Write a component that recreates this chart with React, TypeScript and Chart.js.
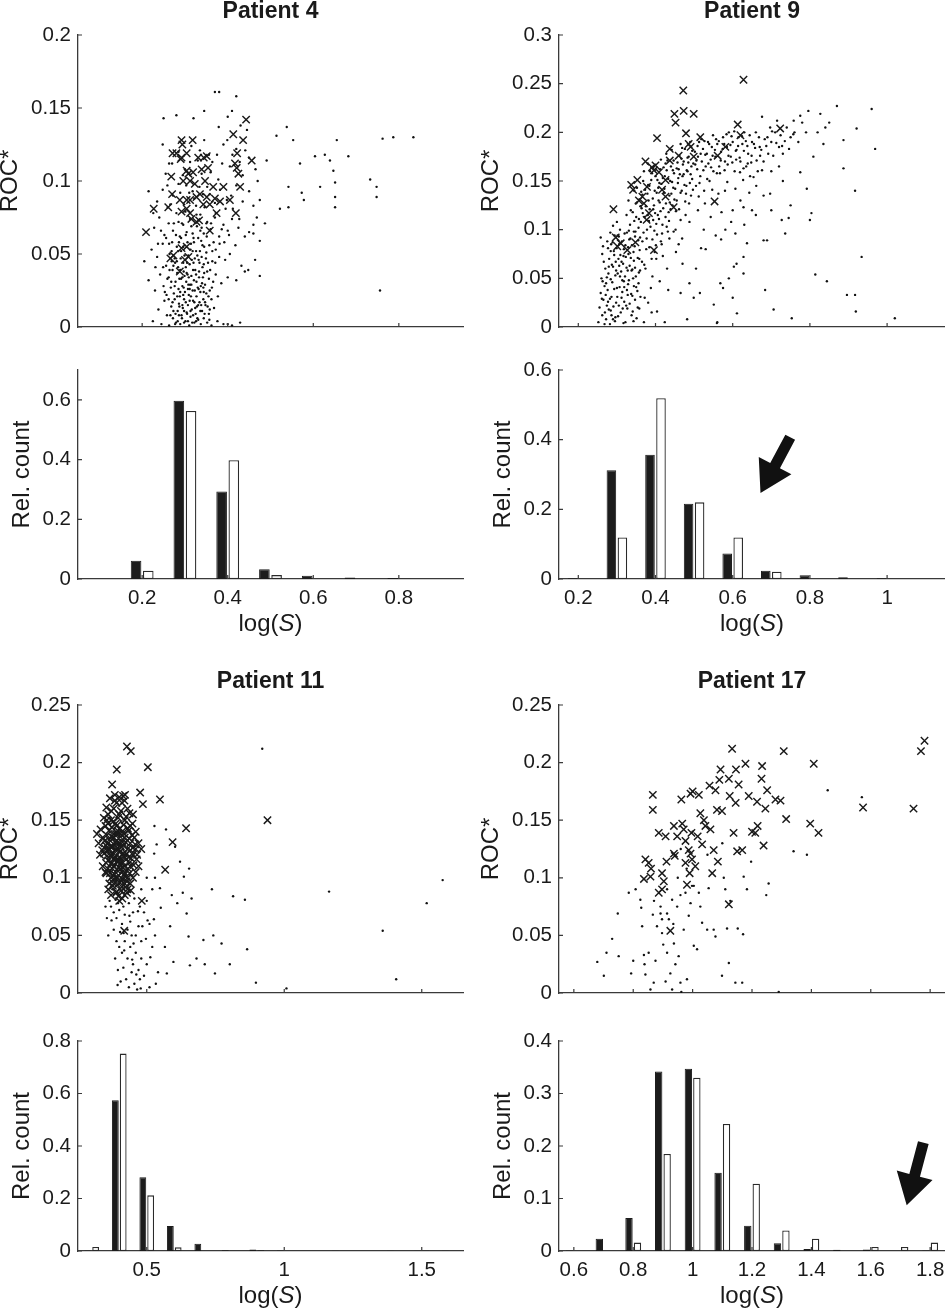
import React, { useEffect, useRef } from "react";
import { Chart, registerables } from "chart.js";

Chart.register(...registerables);

// ---------------- data ----------------
type Pt = [number, number];

// Patient 4 – scatter (ROC* vs log(S))
const P4_CROSSES: Pt[] = [
  [0.209,0.065],[0.227,0.081],[0.261,0.082],[0.268,0.103],[0.270,0.091],[0.271,0.119],[0.280,0.119],[0.292,0.128],
  [0.294,0.125],[0.292,0.116],[0.296,0.100],[0.290,0.115],[0.304,0.119],[0.318,0.128],[0.273,0.049],[0.266,0.047],
  [0.288,0.038],[0.292,0.054],[0.304,0.055],[0.308,0.048],[0.300,0.046],[0.315,0.074],[0.312,0.078],[0.327,0.072],
  [0.333,0.073],[0.331,0.116],[0.339,0.108],[0.344,0.116],[0.351,0.117],[0.354,0.109],[0.347,0.100],[0.304,0.107],
  [0.308,0.105],[0.312,0.100],[0.319,0.106],[0.323,0.098],[0.288,0.087],[0.304,0.087],[0.312,0.087],[0.327,0.089],
  [0.335,0.091],[0.343,0.084],[0.351,0.089],[0.358,0.084],[0.366,0.096],[0.370,0.088],[0.382,0.086],[0.374,0.078],
  [0.358,0.066],[0.390,0.096],[0.405,0.087],[0.413,0.132],[0.421,0.109],[0.417,0.112],[0.425,0.105],[0.429,0.096],
  [0.419,0.078],[0.422,0.119],[0.436,0.128],[0.443,0.142],[0.456,0.114],[0.304,0.081],[0.292,0.079],
];
const P4_DOTS: Pt[] = [
  [0.225,0.004],[0.238,0.012],[0.245,0.002],[0.252,0.018],[0.258,0.008],[0.263,0.001],[0.268,0.014],[0.272,0.006],
  [0.276,0.019],[0.279,0.003],[0.283,0.011],[0.286,0.016],[0.289,0.002],[0.292,0.008],[0.295,0.013],[0.298,0.019],
  [0.301,0.004],[0.304,0.010],[0.307,0.015],[0.310,0.001],[0.313,0.007],[0.316,0.012],[0.319,0.018],[0.322,0.003],
  [0.325,0.009],[0.328,0.014],[0.331,0.005],[0.334,0.017],[0.337,0.002],[0.340,0.011],[0.344,0.006],[0.348,0.015],
  [0.352,0.003],[0.356,0.009],[0.362,0.001],[0.368,0.013],[0.376,0.004],[0.390,0.002],[0.400,0.002],[0.410,0.001],
  [0.215,0.032],[0.230,0.025],[0.242,0.036],[0.250,0.028],[0.257,0.022],[0.262,0.034],[0.267,0.027],[0.271,0.039],
  [0.274,0.023],[0.278,0.031],[0.282,0.037],[0.285,0.026],[0.288,0.021],[0.291,0.033],[0.294,0.028],[0.297,0.038],
  [0.300,0.024],[0.303,0.031],[0.306,0.036],[0.309,0.022],[0.312,0.029],[0.315,0.035],[0.318,0.025],[0.321,0.032],
  [0.324,0.039],[0.327,0.021],[0.330,0.027],[0.333,0.034],[0.336,0.024],[0.340,0.030],[0.345,0.037],[0.350,0.023],
  [0.356,0.033],[0.363,0.027],[0.372,0.036],[0.385,0.030],[0.400,0.034],[0.420,0.032],
  [0.205,0.045],[0.222,0.053],[0.235,0.048],[0.248,0.057],[0.256,0.042],[0.264,0.050],[0.270,0.058],[0.277,0.044],
  [0.284,0.052],[0.290,0.047],[0.296,0.055],[0.302,0.041],[0.308,0.049],[0.314,0.057],[0.320,0.044],[0.326,0.052],
  [0.332,0.046],[0.338,0.059],[0.344,0.043],[0.350,0.051],[0.357,0.056],[0.364,0.045],[0.372,0.053],[0.380,0.048],
  [0.392,0.058],[0.405,0.050],[0.418,0.056],[0.432,0.042],[0.440,0.038],
  [0.228,0.068],[0.240,0.075],[0.252,0.063],[0.262,0.071],[0.272,0.066],[0.280,0.078],[0.288,0.062],[0.296,0.070],
  [0.304,0.065],[0.312,0.074],[0.320,0.061],[0.328,0.069],[0.336,0.077],[0.344,0.064],[0.352,0.072],[0.360,0.067],
  [0.370,0.075],[0.380,0.062],[0.390,0.070],[0.400,0.066],[0.410,0.074],[0.425,0.068],[0.440,0.062],[0.450,0.065],
  [0.460,0.070],
  [0.235,0.086],[0.248,0.094],[0.260,0.082],[0.272,0.090],[0.285,0.098],[0.298,0.084],[0.310,0.092],[0.322,0.088],
  [0.334,0.096],[0.346,0.082],[0.358,0.091],[0.370,0.085],[0.382,0.094],[0.395,0.081],[0.408,0.090],[0.420,0.097],
  [0.435,0.086],[0.450,0.093],[0.460,0.083],[0.215,0.093],
  [0.255,0.105],[0.270,0.112],[0.285,0.120],[0.300,0.108],[0.315,0.124],[0.330,0.114],[0.345,0.128],[0.360,0.106],
  [0.375,0.118],[0.390,0.125],[0.405,0.110],[0.420,0.122],[0.435,0.104],[0.450,0.116],[0.465,0.108],[0.470,0.100],
  [0.250,0.143],[0.280,0.145],[0.320,0.143],[0.345,0.148],[0.370,0.161],[0.380,0.161],[0.420,0.158],[0.410,0.148],
  [0.400,0.144],[0.445,0.135],[0.430,0.138],
  [0.491,0.114],[0.514,0.131],[0.538,0.137],[0.542,0.096],[0.553,0.128],[0.569,0.112],[0.573,0.092],[0.578,0.087],
  [0.604,0.117],[0.616,0.096],[0.627,0.118],[0.639,0.114],[0.647,0.107],[0.651,0.099],[0.651,0.089],[0.651,0.082],
  [0.655,0.128],[0.682,0.117],[0.733,0.101],[0.748,0.096],[0.748,0.089],[0.756,0.025],[0.762,0.129],[0.787,0.130],
  [0.834,0.130],[0.522,0.081],[0.542,0.082],[0.475,0.087],[0.468,0.075],[0.487,0.071],[0.460,0.064],[0.475,0.059],
  [0.464,0.046],[0.475,0.035],[0.448,0.039],[0.429,0.003],
  [0.283,0.004],[0.297,0.027],[0.311,0.043],[0.268,0.031],[0.322,0.017],[0.335,0.052],[0.291,0.061],[0.305,0.009],
  [0.347,0.029],[0.276,0.047],[0.318,0.064],[0.329,0.006],[0.262,0.019],[0.341,0.041],[0.299,0.049],[0.287,0.033],
  [0.314,0.021],[0.353,0.014],[0.273,0.011],[0.326,0.036],[0.306,0.058],[0.281,0.055],[0.339,0.068],[0.294,0.015],
  [0.359,0.039],[0.249,0.041],[0.317,0.003],[0.332,0.026],[0.285,0.072],[0.301,0.079],[0.367,0.058],[0.343,0.019],
  [0.309,0.034],[0.256,0.061],[0.277,0.002],[0.323,0.047],[0.296,0.044],[0.351,0.062],[0.269,0.052],[0.313,0.053],
  [0.289,0.024],[0.336,0.011],[0.302,0.017],[0.327,0.077],[0.358,0.025],[0.264,0.039],[0.279,0.063],[0.319,0.039],
  [0.345,0.055],[0.293,0.071],[0.307,0.026],[0.371,0.044],[0.253,0.024],[0.331,0.061],[0.286,0.008],[0.315,0.069],
  [0.298,0.003],[0.342,0.034],[0.274,0.071],[0.361,0.071],[0.381,0.057],[0.377,0.021],[0.394,0.046],[0.386,0.067],
  [0.403,0.063],[0.412,0.081],[0.398,0.087],[0.427,0.074],[0.244,0.066],[0.237,0.057],[0.231,0.041],[0.226,0.078],
  [0.259,0.097],[0.266,0.084],[0.289,0.092],[0.303,0.097],[0.326,0.083],[0.339,0.105],[0.352,0.096],[0.364,0.113],
  [0.378,0.101],[0.387,0.112],[0.399,0.128],[0.411,0.118],[0.428,0.113],[0.441,0.121],[0.379,0.137],[0.356,0.118],
  [0.335,0.121],[0.312,0.113],[0.263,0.112],[0.248,0.125],[0.342,0.091],[0.372,0.078],[0.318,0.093],[0.295,0.104],
  [0.271,0.017],[0.284,0.041],[0.293,0.006],[0.308,0.029],[0.316,0.046],[0.324,0.013],[0.333,0.038],[0.346,0.009],
  [0.354,0.044],[0.362,0.019],[0.278,0.009],[0.291,0.052],[0.299,0.035],[0.311,0.018],[0.321,0.058],[0.337,0.028],
  [0.349,0.047],[0.357,0.005],[0.366,0.031],[0.281,0.045],[0.287,0.014],[0.296,0.022],[0.305,0.044],[0.313,0.011],
  [0.329,0.049],[0.338,0.015],[0.344,0.024],[0.352,0.038],[0.259,0.033],[0.266,0.008],[0.273,0.042],[0.302,0.063],
  [0.319,0.008],[0.327,0.031],[0.341,0.056],[0.355,0.021],[0.364,0.052],[0.289,0.039],[0.307,0.004],[0.323,0.025],
  [0.334,0.044],[0.347,0.017],[0.276,0.028],[0.298,0.011],[0.315,0.029],[0.331,0.015],[0.339,0.048],[0.358,0.012],
  [0.269,0.045],[0.282,0.021],[0.294,0.034],[0.311,0.026],[0.326,0.004],[0.343,0.027],[0.286,0.058],[0.304,0.037],
  [0.318,0.052],[0.336,0.066],[0.350,0.071],[0.263,0.057],
];
const P4_BINS = [0.2, 0.3, 0.4, 0.5, 0.6, 0.7, 0.8];
const P4_BLACK = [0.061, 0.597, 0.293, 0.033, 0.011, 0.005, 0.003];
const P4_WHITE = [0.028, 0.563, 0.398, 0.013, 0, 0, 0.002];

// Patient 9
const P9_CROSSES: Pt[] = [
  [0.291,0.121],[0.297,0.092],[0.301,0.083],[0.310,0.086],[0.337,0.146],[0.342,0.141],[0.353,0.151],[0.357,0.130],
  [0.370,0.127],[0.374,0.170],[0.377,0.110],[0.383,0.117],[0.391,0.164],[0.396,0.161],[0.400,0.166],[0.404,0.194],
  [0.409,0.159],[0.348,0.087],[0.396,0.079],[0.417,0.141],[0.426,0.151],[0.437,0.183],[0.437,0.171],[0.447,0.123],
  [0.449,0.219],[0.452,0.210],[0.460,0.176],[0.472,0.243],[0.473,0.222],[0.479,0.199],[0.486,0.188],[0.491,0.185],
  [0.499,0.175],[0.499,0.219],[0.516,0.195],[0.553,0.129],[0.561,0.176],[0.581,0.185],[0.613,0.208],[0.620,0.197],
  [0.628,0.254],[0.723,0.204],[0.426,0.134],[0.378,0.144],[0.366,0.134],[0.327,0.079],
];
const P9_DOTS: Pt[] = [
  [0.252,0.005],[0.255,0.020],[0.258,0.035],[0.260,0.050],[0.262,0.012],[0.265,0.028],[0.268,0.042],[0.270,0.060],
  [0.272,0.008],[0.274,0.022],[0.276,0.038],[0.278,0.055],[0.280,0.070],[0.275,0.088],[0.262,0.075],[0.258,0.092],
  [0.282,0.003],[0.284,0.017],[0.286,0.031],[0.288,0.046],[0.290,0.062],[0.292,0.078],[0.294,0.094],[0.296,0.010],
  [0.298,0.025],[0.300,0.040],[0.302,0.055],[0.304,0.070],[0.306,0.085],[0.308,0.100],[0.310,0.015],[0.312,0.030],
  [0.314,0.048],[0.316,0.065],[0.318,0.080],[0.320,0.096],[0.300,0.108],[0.290,0.104],[0.285,0.085],
  [0.322,0.005],[0.324,0.022],[0.326,0.038],[0.328,0.058],[0.330,0.075],[0.332,0.090],[0.334,0.105],[0.336,0.120],
  [0.338,0.012],[0.340,0.032],[0.342,0.050],[0.344,0.068],[0.346,0.083],[0.348,0.098],[0.350,0.113],[0.352,0.128],
  [0.354,0.020],[0.356,0.045],[0.358,0.070],[0.360,0.092],[0.330,0.130],[0.345,0.140],[0.325,0.115],
  [0.362,0.108],[0.364,0.122],[0.366,0.136],[0.368,0.150],[0.370,0.005],[0.372,0.030],[0.374,0.060],[0.376,0.080],
  [0.378,0.100],[0.380,0.115],[0.382,0.130],[0.384,0.145],[0.386,0.160],[0.388,0.040],[0.390,0.070],[0.392,0.090],
  [0.394,0.110],[0.396,0.125],[0.398,0.140],[0.400,0.155],[0.395,0.165],[0.380,0.168],[0.370,0.160],[0.390,0.015],
  [0.402,0.070],[0.404,0.095],[0.406,0.115],[0.408,0.130],[0.410,0.148],[0.412,0.162],[0.414,0.172],[0.416,0.085],
  [0.418,0.105],[0.420,0.122],[0.422,0.138],[0.424,0.155],[0.426,0.168],[0.428,0.178],[0.430,0.060],[0.432,0.098],
  [0.434,0.118],[0.436,0.135],[0.438,0.150],[0.440,0.165],[0.442,0.182],[0.444,0.125],[0.446,0.143],[0.448,0.158],
  [0.452,0.100],[0.455,0.130],[0.458,0.148],[0.460,0.162],[0.462,0.176],[0.465,0.188],[0.468,0.140],[0.470,0.155],
  [0.473,0.170],[0.476,0.183],[0.478,0.115],[0.480,0.145],[0.483,0.160],[0.486,0.175],[0.490,0.190],[0.492,0.135],
  [0.495,0.152],[0.498,0.168],[0.460,0.085],[0.470,0.065],[0.488,0.045],[0.465,0.110],
  [0.502,0.180],[0.505,0.145],[0.508,0.162],[0.510,0.175],[0.513,0.190],[0.516,0.155],[0.520,0.170],[0.523,0.183],
  [0.526,0.140],[0.530,0.165],[0.533,0.178],[0.536,0.190],[0.540,0.150],[0.543,0.172],[0.546,0.185],[0.550,0.160],
  [0.510,0.120],[0.525,0.100],[0.530,0.080],[0.505,0.060],[0.515,0.035],
  [0.555,0.175],[0.560,0.188],[0.565,0.165],[0.570,0.180],[0.575,0.195],[0.580,0.170],[0.585,0.185],[0.590,0.200],
  [0.595,0.175],[0.600,0.190],[0.605,0.160],[0.610,0.182],[0.615,0.195],[0.620,0.170],[0.625,0.188],[0.630,0.200],
  [0.635,0.165],[0.640,0.178],[0.645,0.155],[0.650,0.190],[0.580,0.140],[0.600,0.120],[0.620,0.130],[0.630,0.105],
  [0.570,0.090],[0.590,0.050],[0.600,0.030],[0.610,0.065],[0.575,0.040],[0.560,0.005],
  [0.660,0.200],[0.670,0.185],[0.680,0.170],[0.690,0.195],[0.700,0.190],[0.710,0.200],[0.720,0.185],[0.730,0.178],
  [0.740,0.205],[0.750,0.195],[0.760,0.200],[0.770,0.190],[0.780,0.210],[0.790,0.200],[0.665,0.160],[0.700,0.160],
  [0.720,0.165],[0.730,0.150],[0.750,0.125],[0.680,0.135],[0.660,0.115],[0.700,0.120],
  [0.465,0.035],[0.482,0.008],[0.499,0.030],[0.551,0.023],[0.559,0.004],[0.568,0.045],[0.603,0.062],[0.628,0.055],
  [0.611,0.014],[0.628,0.072],[0.637,0.086],[0.607,0.096],[0.581,0.100],[0.628,0.123],[0.650,0.120],[0.680,0.089],
  [0.654,0.154],[0.676,0.161],
  [0.960,0.224],[0.969,0.183],[0.887,0.163],[0.917,0.140],[0.934,0.072],[0.896,0.033],[0.917,0.033],[0.919,0.016],
  [1.020,0.009],[0.870,0.227],[0.921,0.204],[0.844,0.047],[0.814,0.054],[0.800,0.110],[0.804,0.117],[0.753,0.009],
  [0.706,0.018],[0.684,0.038],[0.689,0.089],[0.736,0.096],[0.745,0.112],[0.727,0.110],[0.792,0.142],[0.775,0.159],
  [0.835,0.188],[0.809,0.175],[0.827,0.219],[0.796,0.222],[0.775,0.217],[0.758,0.212],[0.715,0.212],[0.697,0.205],
  [0.676,0.216],[0.697,0.137],[0.850,0.210],[0.820,0.200],[0.840,0.205],[0.887,0.192],
  [0.263,0.047],[0.271,0.033],[0.279,0.018],[0.287,0.064],[0.293,0.039],[0.299,0.081],[0.305,0.022],[0.311,0.057],
  [0.317,0.004],[0.323,0.072],[0.329,0.044],[0.335,0.091],[0.341,0.016],[0.347,0.061],[0.353,0.037],[0.359,0.079],
  [0.266,0.067],[0.274,0.051],[0.282,0.029],[0.289,0.087],[0.296,0.053],[0.303,0.011],[0.309,0.074],[0.314,0.036],
  [0.321,0.052],[0.327,0.019],[0.333,0.063],[0.339,0.084],[0.344,0.042],[0.351,0.009],[0.357,0.056],[0.261,0.029],
  [0.269,0.015],[0.277,0.081],[0.284,0.049],[0.291,0.021],[0.297,0.067],[0.302,0.094],[0.307,0.041],[0.313,0.088],
  [0.319,0.026],[0.325,0.061],[0.331,0.099],[0.337,0.034],[0.343,0.077],[0.349,0.052],[0.355,0.089],[0.361,0.031],
  [0.268,0.003],[0.283,0.097],[0.295,0.006],[0.306,0.063],[0.318,0.047],[0.329,0.082],[0.338,0.058],[0.347,0.028],
  [0.356,0.102],[0.365,0.067],
  [0.341,0.118],[0.349,0.127],[0.357,0.111],[0.363,0.139],[0.369,0.097],[0.375,0.124],[0.381,0.146],[0.387,0.103],
  [0.393,0.132],[0.399,0.117],[0.405,0.151],[0.411,0.128],[0.417,0.096],[0.423,0.142],[0.429,0.161],[0.435,0.109],
  [0.441,0.137],[0.447,0.171],[0.453,0.119],[0.459,0.153],[0.465,0.138],[0.471,0.167],[0.477,0.129],[0.483,0.174],
  [0.489,0.148],[0.495,0.181],[0.344,0.098],[0.352,0.143],[0.361,0.124],[0.372,0.113],[0.379,0.137],[0.385,0.121],
  [0.391,0.158],[0.397,0.099],[0.403,0.138],[0.409,0.111],[0.415,0.147],[0.421,0.164],[0.427,0.127],[0.433,0.152],
  [0.439,0.121],[0.445,0.161],[0.451,0.142],[0.457,0.169],[0.463,0.157],[0.469,0.184],[0.475,0.146],[0.481,0.161],
  [0.487,0.127],[0.493,0.165],[0.366,0.088],[0.384,0.082],[0.401,0.084],[0.419,0.073],[0.436,0.091],[0.453,0.077],
  [0.371,0.064],[0.392,0.052],[0.411,0.047],[0.433,0.038],[0.381,0.025],[0.404,0.016],[0.424,0.005],
  [0.503,0.167],[0.509,0.186],[0.514,0.148],[0.519,0.193],[0.524,0.161],[0.529,0.177],[0.534,0.152],[0.539,0.188],
  [0.544,0.164],[0.549,0.197],[0.554,0.182],[0.559,0.158],[0.564,0.191],[0.569,0.171],[0.574,0.183],[0.579,0.161],
  [0.584,0.198],[0.589,0.176],[0.594,0.187],[0.599,0.169],[0.604,0.201],[0.609,0.172],[0.614,0.186],[0.619,0.159],
  [0.624,0.196],[0.629,0.181],[0.634,0.191],[0.639,0.168],[0.644,0.197],[0.649,0.176],[0.655,0.188],[0.662,0.171],
  [0.668,0.195],[0.674,0.182],[0.683,0.193],[0.692,0.178],[0.702,0.201],[0.713,0.189],[0.724,0.197],[0.735,0.191],
  [0.746,0.183],[0.757,0.198],[0.512,0.134],[0.528,0.127],[0.547,0.141],[0.563,0.137],[0.586,0.149],[0.607,0.142],
  [0.627,0.151],[0.643,0.138],[0.661,0.145],[0.543,0.113],[0.571,0.118],[0.596,0.108],[0.556,0.094],[0.518,0.081],
  [0.272,0.045],[0.279,0.062],[0.286,0.012],[0.293,0.074],[0.301,0.031],[0.308,0.052],[0.315,0.019],[0.322,0.084],
  [0.328,0.033],[0.336,0.071],[0.343,0.006],[0.350,0.041],[0.358,0.019],[0.277,0.026],[0.284,0.078],[0.298,0.058],
  [0.305,0.093],[0.312,0.067],[0.319,0.041],[0.326,0.097],[0.333,0.024],[0.340,0.059],[0.347,0.093],[0.354,0.071],
  [0.264,0.083],[0.290,0.008],[0.317,0.073],[0.331,0.048],[0.345,0.109],[0.360,0.058],
  [0.358,0.131],[0.367,0.117],[0.373,0.141],[0.383,0.109],[0.389,0.151],[0.394,0.121],[0.402,0.106],[0.407,0.143],
  [0.413,0.119],[0.419,0.153],[0.426,0.113],[0.431,0.171],[0.437,0.128],[0.443,0.149],[0.449,0.131],[0.455,0.163],
  [0.461,0.121],[0.467,0.173],[0.473,0.157],[0.479,0.137],[0.485,0.169],[0.491,0.157],[0.497,0.141],[0.377,0.091],
  [0.398,0.077],[0.414,0.088],[0.429,0.103],[0.447,0.098],[0.469,0.091],[0.488,0.108],
  [0.506,0.171],[0.517,0.178],[0.527,0.191],[0.537,0.168],[0.548,0.176],[0.557,0.193],[0.567,0.158],[0.578,0.188],
  [0.587,0.167],[0.597,0.196],[0.608,0.181],[0.618,0.174],[0.628,0.163],[0.638,0.186],[0.648,0.169],[0.658,0.184],
  [0.671,0.176],[0.687,0.186],[0.705,0.176],[0.728,0.186],
];
const P9_BINS = [0.2, 0.3, 0.4, 0.5, 0.6, 0.7, 0.8, 0.9, 1.0];
const P9_BLACK = [0.002, 0.312, 0.357, 0.216, 0.073, 0.024, 0.011, 0.005, 0.002];
const P9_WHITE = [0, 0.119, 0.519, 0.22, 0.119, 0.021, 0, 0, 0];
const P9_ARROW: Pt[] = [[0.749, 0.407], [0.672, 0.247]];

// Patient 11
const P11_CROSSES: Pt[] = [
  [0.428,0.214],[0.442,0.210],[0.391,0.194],[0.504,0.196],[0.374,0.181],[0.384,0.172],[0.421,0.172],[0.476,0.174],
  [0.486,0.164],[0.548,0.168],[0.319,0.138],[0.355,0.150],[0.643,0.143],[0.594,0.131],[0.567,0.107],[0.939,0.150],
  [0.418,0.054],[0.345,0.121],[0.353,0.104],[0.482,0.080],
  [0.350,0.145],[0.360,0.155],[0.370,0.150],[0.380,0.160],[0.390,0.145],[0.400,0.155],[0.410,0.165],[0.420,0.150],
  [0.430,0.160],[0.440,0.145],[0.450,0.155],[0.460,0.140],[0.470,0.130],[0.480,0.125],[0.350,0.125],[0.360,0.130],
  [0.370,0.120],[0.380,0.135],[0.390,0.125],[0.400,0.130],[0.410,0.120],[0.420,0.135],[0.430,0.125],[0.440,0.130],
  [0.450,0.120],[0.460,0.125],[0.340,0.110],[0.350,0.105],[0.360,0.115],[0.370,0.100],[0.380,0.110],[0.390,0.100],
  [0.400,0.115],[0.410,0.105],[0.420,0.110],[0.430,0.100],[0.440,0.110],[0.450,0.100],[0.460,0.105],[0.470,0.110],
  [0.360,0.090],[0.370,0.085],[0.380,0.095],[0.390,0.088],[0.400,0.080],[0.410,0.092],[0.420,0.085],[0.430,0.090],
  [0.440,0.095],[0.330,0.120],[0.340,0.135],[0.325,0.130],[0.400,0.170],[0.390,0.165],[0.410,0.140],[0.420,0.095],
  [0.455,0.135],[0.465,0.120],[0.385,0.118],[0.405,0.108],[0.395,0.138],[0.375,0.108],[0.415,0.128],[0.435,0.118],
  [0.347,0.132],[0.356,0.119],[0.363,0.141],[0.368,0.127],[0.374,0.113],[0.379,0.149],[0.383,0.103],[0.387,0.131],
  [0.392,0.114],[0.396,0.152],[0.401,0.096],[0.404,0.123],[0.408,0.137],[0.412,0.109],[0.416,0.146],[0.419,0.118],
  [0.423,0.131],[0.427,0.097],[0.431,0.143],[0.436,0.113],[0.441,0.124],[0.446,0.137],[0.452,0.111],[0.458,0.129],
  [0.463,0.116],[0.338,0.124],[0.352,0.113],[0.366,0.104],[0.377,0.093],[0.389,0.087],[0.398,0.102],[0.407,0.089],
  [0.417,0.102],[0.428,0.087],[0.438,0.104],[0.359,0.147],[0.371,0.158],[0.384,0.167],[0.394,0.141],[0.406,0.158],
  [0.414,0.171],[0.425,0.153],[0.437,0.156],[0.448,0.147],[0.332,0.142],[0.344,0.152],[0.353,0.161],[0.366,0.169],
  [0.397,0.084],[0.411,0.082],[0.419,0.167],[0.442,0.089],[0.381,0.121],[0.393,0.126],[0.404,0.112],[0.382,0.138],
  [0.371,0.136],[0.362,0.124],
  [0.352,0.128],[0.358,0.108],[0.364,0.133],[0.369,0.112],[0.376,0.127],[0.381,0.099],[0.386,0.124],[0.391,0.107],
  [0.396,0.131],[0.401,0.118],[0.406,0.127],[0.411,0.099],[0.416,0.121],[0.421,0.104],[0.426,0.121],[0.432,0.108],
  [0.437,0.134],[0.443,0.117],[0.449,0.126],[0.355,0.137],[0.373,0.144],[0.389,0.138],[0.403,0.143],[0.418,0.138],
  [0.434,0.141],[0.364,0.095],[0.378,0.102],[0.393,0.094],[0.408,0.097],[0.423,0.092],[0.387,0.147],[0.399,0.109],
  [0.412,0.131],[0.426,0.116],[0.379,0.116],[0.368,0.119],[0.359,0.125],[0.395,0.115],[0.410,0.114],[0.384,0.131],
];
const P11_DOTS: Pt[] = [
  [0.920,0.212],[0.737,0.090],[0.814,0.084],[0.857,0.081],[1.163,0.088],[1.576,0.098],[1.518,0.078],[1.358,0.054],
  [1.407,0.012],[1.008,0.004],[0.897,0.009],[0.865,0.038],[0.802,0.025],[0.772,0.043],[0.742,0.050],[0.706,0.046],
  [0.748,0.017],[0.681,0.030],[0.711,0.025],[0.657,0.024],[0.652,0.049],[0.645,0.069],[0.631,0.087],[0.663,0.082],
  [0.635,0.101],[0.654,0.108],[0.621,0.114],[0.611,0.078],[0.591,0.085],[0.585,0.058],[0.597,0.027],[0.573,0.017],
  [0.566,0.040],[0.551,0.074],[0.527,0.121],[0.536,0.129],[0.528,0.145],[0.570,0.142],[0.603,0.127],
  [0.370,0.075],[0.380,0.070],[0.390,0.065],[0.400,0.072],[0.410,0.060],[0.420,0.068],[0.430,0.055],[0.440,0.062],
  [0.450,0.070],[0.460,0.050],[0.470,0.058],[0.480,0.045],[0.380,0.055],[0.390,0.045],[0.400,0.040],[0.410,0.035],
  [0.420,0.045],[0.430,0.030],[0.440,0.040],[0.450,0.025],[0.460,0.035],[0.470,0.020],[0.480,0.030],[0.490,0.015],
  [0.500,0.025],[0.385,0.030],[0.395,0.020],[0.405,0.010],[0.415,0.022],[0.425,0.012],[0.435,0.005],[0.445,0.018],
  [0.455,0.008],[0.465,0.003],[0.475,0.012],[0.510,0.005],[0.520,0.040],[0.530,0.050],[0.510,0.060],[0.500,0.080],
  [0.490,0.070],[0.520,0.090],[0.530,0.100],[0.500,0.100],[0.480,0.090],[0.375,0.090],[0.365,0.080],[0.355,0.065],
  [0.360,0.050],[0.350,0.075],[0.395,0.078],[0.415,0.075],[0.435,0.078],[0.455,0.082],[0.475,0.075],[0.445,0.050],
  [0.372,0.063],[0.387,0.081],[0.403,0.053],[0.418,0.037],[0.437,0.067],[0.452,0.043],[0.468,0.071],[0.484,0.058],
  [0.497,0.047],[0.513,0.031],[0.526,0.064],[0.541,0.018],[0.548,0.091],[0.394,0.007],[0.447,0.029],[0.462,0.016],
  [0.478,0.004],[0.503,0.063],[0.533,0.008],[0.416,0.052],
];
const P11_BINS = [0.3, 0.4, 0.5, 0.6, 0.7, 0.8, 0.9, 1.0, 1.1, 1.2, 1.3, 1.4, 1.5, 1.6];
const P11_BLACK = [0.002, 0.574, 0.281, 0.095, 0.028, 0.003, 0.006, 0.002, 0, 0.001, 0, 0.001, 0.001, 0.001];
const P11_WHITE = [0.015, 0.752, 0.212, 0.014, 0, 0, 0.004, 0, 0, 0, 0, 0, 0.002, 0];

// Patient 17
const P17_CROSSES: Pt[] = [
  [0.866,0.172],[0.866,0.159],[0.836,0.099],[0.841,0.116],[0.852,0.113],[0.860,0.108],[0.858,0.101],[0.886,0.139],
  [0.909,0.136],[0.886,0.087],[0.897,0.090],[0.903,0.097],[0.897,0.104],[0.912,0.114],[0.925,0.054],[0.937,0.145],
  [0.940,0.119],[0.948,0.136],[0.962,0.168],[0.965,0.147],[0.970,0.142],[0.976,0.132],[0.976,0.113],[0.981,0.094],
  [0.987,0.124],[0.990,0.104],[0.996,0.139],[0.998,0.116],[1.000,0.175],[1.009,0.110],[1.017,0.136],[1.021,0.172],
  [1.026,0.156],[1.032,0.129],[1.038,0.150],[1.043,0.145],[1.057,0.180],[1.060,0.142],[1.066,0.104],[1.071,0.124],
  [1.077,0.176],[1.082,0.159],[1.085,0.114],[1.090,0.185],[1.094,0.194],[1.099,0.158],[1.122,0.186],[1.125,0.171],
  [1.133,0.212],[1.138,0.139],[1.145,0.165],[1.146,0.194],[1.155,0.181],[1.150,0.123],[1.122,0.077],[1.167,0.124],
  [1.178,0.199],[1.189,0.171],[1.200,0.140],[1.211,0.139],[1.219,0.145],[1.217,0.166],[1.234,0.197],[1.232,0.186],
  [1.251,0.176],[1.245,0.160],[1.239,0.128],[1.279,0.168],[1.296,0.167],[1.307,0.210],[1.315,0.151],[1.396,0.147],
  [1.408,0.199],[1.424,0.139],[1.574,0.161],[1.744,0.160],[1.769,0.210],[1.781,0.219],[0.993,0.173],[0.937,0.121],
  [0.993,0.121],
];
const P17_DOTS: Pt[] = [
  [0.679,0.027],[0.701,0.015],[0.710,0.035],[0.729,0.047],[0.748,0.069],[0.751,0.032],[0.785,0.087],[0.793,0.017],
  [0.800,0.028],[0.808,0.090],[0.824,0.081],[0.827,0.074],[0.830,0.058],[0.836,0.033],[0.838,0.025],[0.841,0.016],
  [0.852,0.035],[0.858,0.003],[0.866,0.068],[0.869,0.009],[0.875,0.028],[0.880,0.058],[0.892,0.069],[0.897,0.052],
  [0.901,0.042],[0.909,0.010],[0.914,0.035],[0.920,0.064],[0.925,0.017],[0.931,0.003],[0.937,0.043],[0.942,0.025],
  [0.948,0.075],[0.953,0.032],[0.959,0.009],[0.962,0.001],[0.970,0.055],[0.976,0.087],[0.981,0.012],[0.987,0.067],
  [0.993,0.078],[0.998,0.093],[1.004,0.041],[1.015,0.038],[1.021,0.087],[1.026,0.075],[1.032,0.061],[1.049,0.055],
  [1.054,0.091],[1.071,0.055],[1.077,0.049],[1.099,0.015],[1.105,0.100],[1.110,0.090],[1.116,0.056],[1.122,0.026],
  [1.127,0.080],[1.144,0.009],[1.152,0.056],[1.167,0.009],[1.170,0.051],[1.172,0.101],[1.183,0.090],[1.197,0.114],
  [1.248,0.085],[1.256,0.095],[1.290,0.001],[1.340,0.123],[1.385,0.120],[1.455,0.176],[1.570,0.170],
  [0.914,0.090],[0.931,0.081],[0.959,0.085],[1.004,0.093],[0.892,0.075],[0.914,0.069],[0.897,0.064],
  [0.960,0.125],[1.000,0.140],[1.050,0.120],[0.950,0.100],[0.980,0.108],[1.100,0.130],[0.870,0.080],[0.935,0.060],
];
const P17_BINS = [0.6, 0.7, 0.8, 0.9, 1.0, 1.1, 1.2, 1.3, 1.4, 1.5, 1.6, 1.7, 1.8];
const P17_BLACK = [0.001, 0.0235, 0.063, 0.342, 0.347, 0.149, 0.048, 0.015, 0.004, 0.0025, 0.003, 0, 0.001];
const P17_WHITE = [0, 0, 0.016, 0.185, 0.33, 0.242, 0.128, 0.039, 0.0235, 0, 0.0076, 0.0076, 0.016];
const P17_ARROW: Pt[] = [[1.777, 0.2065], [1.721, 0.087]];

// tick values
const P4_XTICKS = [0.2, 0.4, 0.6, 0.8];
const P4_SC_YTICKS = [0, 0.05, 0.1, 0.15, 0.2];
const P4_H_YTICKS = [0, 0.2, 0.4, 0.6];
const P9_XTICKS = [0.2, 0.4, 0.6, 0.8, 1];
const P9_SC_YTICKS = [0, 0.05, 0.1, 0.15, 0.2, 0.25, 0.3];
const P9_H_YTICKS = [0, 0.2, 0.4, 0.6];
const P11_XTICKS = [0.5, 1, 1.5];
const P11_SC_YTICKS = [0, 0.05, 0.1, 0.15, 0.2, 0.25];
const P11_H_YTICKS = [0, 0.2, 0.4, 0.6, 0.8];
const P17_XTICKS = [0.6, 0.8, 1, 1.2, 1.4, 1.6, 1.8];
const P17_SC_YTICKS = [0, 0.05, 0.1, 0.15, 0.2, 0.25];
const P17_H_YTICKS = [0, 0.1, 0.2, 0.3, 0.4];

// ---------------- styling / layout ----------------
const FAMILY = "'Liberation Sans', Arial, Helvetica, sans-serif";
const TICK_FS = 20.5;
const AXT_FS = 24;
const TITLE_FS = 23;
const INK = "#1a1a1a";
const AXIS = "#3a3a3a";
const PAD_L = 78, PAD_T = 40, PAD_R = 20, PAD_B = 60;

const COL_L = { left: 78, right: 463 };
const COL_R = { left: 559, right: 945 };
const ROW1_S = { top: 35, bottom: 327 };
const ROW1_H = { top: 370, bottom: 579 };
const ROW2_S = { top: 705, bottom: 993 };
const ROW2_H = { top: 1041, bottom: 1251 };

interface Spec {
  kind: "scatter" | "bar";
  left: number; right: number; top: number; bottom: number;
  xMin: number; xMax: number; xTicks: number[];
  yMin: number; yMax: number; yTicks: number[];
  yTitle: string; title?: string; xTitle?: boolean; xLabels: boolean;
  crosses?: Pt[]; dots?: Pt[];
  bins?: number[]; black?: number[]; white?: number[];
  arrow?: Pt[];
}

const fmt = (v: number) => String(Number(Number(v).toFixed(4)));

const SPECS: Spec[] = [
  { kind: "scatter", ...COL_L, ...ROW1_S, xMin: 0.05, xMax: 0.95, xTicks: P4_XTICKS, yMin: 0, yMax: 0.2, yTicks: P4_SC_YTICKS,
    yTitle: "ROC*", title: "Patient 4", xLabels: false, crosses: P4_CROSSES, dots: P4_DOTS },
  { kind: "bar", ...COL_L, ...ROW1_H, xMin: 0.05, xMax: 0.95, xTicks: P4_XTICKS, yMin: 0, yMax: 0.7, yTicks: P4_H_YTICKS,
    yTitle: "Rel. count", xTitle: true, xLabels: true, bins: P4_BINS, black: P4_BLACK, white: P4_WHITE },
  { kind: "scatter", ...COL_R, ...ROW1_S, xMin: 0.15, xMax: 1.15, xTicks: P9_XTICKS, yMin: 0, yMax: 0.3, yTicks: P9_SC_YTICKS,
    yTitle: "ROC*", title: "Patient 9", xLabels: false, crosses: P9_CROSSES, dots: P9_DOTS },
  { kind: "bar", ...COL_R, ...ROW1_H, xMin: 0.15, xMax: 1.15, xTicks: P9_XTICKS, yMin: 0, yMax: 0.6, yTicks: P9_H_YTICKS,
    yTitle: "Rel. count", xTitle: true, xLabels: true, bins: P9_BINS, black: P9_BLACK, white: P9_WHITE, arrow: P9_ARROW },
  { kind: "scatter", ...COL_L, ...ROW2_S, xMin: 0.25, xMax: 1.65, xTicks: P11_XTICKS, yMin: 0, yMax: 0.25, yTicks: P11_SC_YTICKS,
    yTitle: "ROC*", title: "Patient 11", xLabels: false, crosses: P11_CROSSES, dots: P11_DOTS },
  { kind: "bar", ...COL_L, ...ROW2_H, xMin: 0.25, xMax: 1.65, xTicks: P11_XTICKS, yMin: 0, yMax: 0.8, yTicks: P11_H_YTICKS,
    yTitle: "Rel. count", xTitle: true, xLabels: true, bins: P11_BINS, black: P11_BLACK, white: P11_WHITE },
  { kind: "scatter", ...COL_R, ...ROW2_S, xMin: 0.55, xMax: 1.85, xTicks: P17_XTICKS, yMin: 0, yMax: 0.25, yTicks: P17_SC_YTICKS,
    yTitle: "ROC*", title: "Patient 17", xLabels: false, crosses: P17_CROSSES, dots: P17_DOTS },
  { kind: "bar", ...COL_R, ...ROW2_H, xMin: 0.55, xMax: 1.85, xTicks: P17_XTICKS, yMin: 0, yMax: 0.4, yTicks: P17_H_YTICKS,
    yTitle: "Rel. count", xTitle: true, xLabels: true, bins: P17_BINS, black: P17_BLACK, white: P17_WHITE, arrow: P17_ARROW },
];

function makePlugin(spec: Spec) {
  return {
    id: "matlabDecor",
    afterDraw(chart: any) {
      const ctx: CanvasRenderingContext2D = chart.ctx;
      const a = chart.chartArea;
      const xs = chart.scales.x;
      const ys = chart.scales.y;
      ctx.save();
      // inward tick marks
      ctx.strokeStyle = AXIS;
      ctx.lineWidth = 1.2;
      ctx.beginPath();
      xs.ticks.forEach((t: any) => {
        const p = xs.getPixelForValue(t.value);
        ctx.moveTo(p, a.bottom);
        ctx.lineTo(p, a.bottom - 4);
      });
      ys.ticks.forEach((t: any) => {
        const p = ys.getPixelForValue(t.value);
        ctx.moveTo(a.left, p);
        ctx.lineTo(a.left + 4, p);
      });
      ctx.stroke();

      ctx.fillStyle = INK;
      // y-axis title
      ctx.font = `${TICK_FS}px ${FAMILY}`;
      let maxW = 0;
      ys.ticks.forEach((t: any) => {
        maxW = Math.max(maxW, ctx.measureText(fmt(t.value)).width);
      });
      const baseX = a.left - 7 - maxW - 14;
      ctx.save();
      ctx.translate(baseX, (a.top + a.bottom) / 2);
      ctx.rotate(-Math.PI / 2);
      ctx.font = `${AXT_FS}px ${FAMILY}`;
      ctx.textAlign = "center";
      ctx.textBaseline = "alphabetic";
      ctx.fillText(spec.yTitle, 0, 0);
      ctx.restore();

      // x-axis title: log(S) with italic S
      if (spec.xTitle) {
        const reg = `${AXT_FS}px ${FAMILY}`;
        const ita = `italic ${AXT_FS}px ${FAMILY}`;
        ctx.font = reg;
        const w1 = ctx.measureText("log(").width;
        const w3 = ctx.measureText(")").width;
        ctx.font = ita;
        const w2 = ctx.measureText("S").width;
        let x = (a.left + a.right) / 2 - (w1 + w2 + w3) / 2;
        const y = a.bottom + 52;
        ctx.textAlign = "left";
        ctx.textBaseline = "alphabetic";
        ctx.font = reg;
        ctx.fillText("log(", x, y);
        x += w1;
        ctx.font = ita;
        ctx.fillText("S", x, y);
        x += w2;
        ctx.font = reg;
        ctx.fillText(")", x, y);
      }

      // panel title
      if (spec.title) {
        ctx.font = `bold ${TITLE_FS}px ${FAMILY}`;
        ctx.textAlign = "center";
        ctx.textBaseline = "alphabetic";
        ctx.fillText(spec.title, (a.left + a.right) / 2, a.top - 17);
      }

      // arrow annotation
      if (spec.arrow) {
        const [tail, tip] = spec.arrow;
        const x0 = xs.getPixelForValue(tail[0]), y0 = ys.getPixelForValue(tail[1]);
        const x1 = xs.getPixelForValue(tip[0]), y1 = ys.getPixelForValue(tip[1]);
        const dx = x1 - x0, dy = y1 - y0;
        const len = Math.hypot(dx, dy);
        const ux = dx / len, uy = dy / len;
        const nx = -uy, ny = ux;
        const headLen = 31, headW = 37, shaftW = 11;
        const bx = x1 - ux * headLen, by = y1 - uy * headLen;
        ctx.beginPath();
        ctx.moveTo(x0 + nx * shaftW / 2, y0 + ny * shaftW / 2);
        ctx.lineTo(bx + nx * shaftW / 2, by + ny * shaftW / 2);
        ctx.lineTo(bx + nx * headW / 2, by + ny * headW / 2);
        ctx.lineTo(x1, y1);
        ctx.lineTo(bx - nx * headW / 2, by - ny * headW / 2);
        ctx.lineTo(bx - nx * shaftW / 2, by - ny * shaftW / 2);
        ctx.lineTo(x0 - nx * shaftW / 2, y0 - ny * shaftW / 2);
        ctx.closePath();
        ctx.fillStyle = "#111111";
        ctx.fill();
      }
      ctx.restore();
    },
  };
}

function buildConfig(spec: Spec): any {
  const tickFont = { family: FAMILY, size: TICK_FS };
  const datasets: any[] =
    spec.kind === "scatter"
      ? [
          {
            data: (spec.crosses || []).map(([x, y]) => ({ x, y })),
            pointStyle: "crossRot",
            pointRadius: 5.2,
            borderColor: INK,
            borderWidth: 1.45,
            backgroundColor: "rgba(0,0,0,0)",
          },
          {
            data: (spec.dots || []).map(([x, y]) => ({ x, y })),
            pointStyle: "circle",
            pointRadius: 1.2,
            borderWidth: 0,
            backgroundColor: "#111111",
          },
        ]
      : [
          {
            data: (spec.bins || []).map((b, i) => ({ x: b, y: (spec.black || [])[i] })),
            backgroundColor: "#1c1c1c",
            borderColor: "#1c1c1c",
            borderWidth: 1,
            borderSkipped: false,
            categoryPercentage: 0.57,
            barPercentage: 0.87,
          },
          {
            data: (spec.bins || []).map((b, i) => ({ x: b, y: (spec.white || [])[i] })),
            backgroundColor: "#ffffff",
            borderColor: "#2a2a2a",
            borderWidth: 1.3,
            borderSkipped: false,
            categoryPercentage: 0.57,
            barPercentage: 0.87,
          },
        ];
  return {
    type: spec.kind,
    data: { datasets },
    plugins: [makePlugin(spec)],
    options: {
      animation: false,
      responsive: false,
      maintainAspectRatio: false,
      events: [],
      layout: { padding: { top: PAD_T, right: PAD_R, left: 0, bottom: 0 } },
      plugins: { legend: { display: false }, tooltip: { enabled: false }, title: { display: false } },
      scales: {
        x: {
          type: "linear",
          position: "bottom",
          min: spec.xMin,
          max: spec.xMax,
          offset: false,
          grid: { display: false, drawTicks: false },
          border: { display: true, color: AXIS, width: 1.3 },
          ticks: {
            display: spec.xLabels,
            padding: 7,
            font: tickFont,
            color: INK,
            autoSkip: false,
            maxRotation: 0,
            callback: (v: number) => fmt(v),
          },
          afterBuildTicks: (s: any) => {
            s.ticks = spec.xTicks.map((v) => ({ value: v }));
          },
          afterFit: (s: any) => {
            s.height = PAD_B;
          },
        },
        y: {
          type: "linear",
          position: "left",
          min: spec.yMin,
          max: spec.yMax,
          grid: { display: false, drawTicks: false },
          border: { display: true, color: AXIS, width: 1.3 },
          ticks: {
            padding: 7,
            font: tickFont,
            color: INK,
            autoSkip: false,
            callback: (v: number) => fmt(v),
          },
          afterBuildTicks: (s: any) => {
            s.ticks = spec.yTicks.map((v) => ({ value: v }));
          },
          afterFit: (s: any) => {
            s.width = PAD_L;
          },
        },
      },
    },
  };
}

function Panel({ spec }: { spec: Spec }) {
  const ref = useRef<HTMLCanvasElement | null>(null);
  const W = spec.right - spec.left + PAD_L + PAD_R;
  const H = spec.bottom - spec.top + PAD_T + PAD_B;
  useEffect(() => {
    if (!ref.current) return;
    const chart = new Chart(ref.current, buildConfig(spec));
    return () => chart.destroy();
  }, [spec]);
  return (
    <canvas
      ref={ref}
      width={W}
      height={H}
      style={{ position: "absolute", left: spec.left - PAD_L, top: spec.top - PAD_T, width: W, height: H, display: "block" }}
    />
  );
}

export default function App() {
  Chart.defaults.font.family = FAMILY;
  Chart.defaults.color = INK;
  return (
    <div
      style={{
        position: "absolute",
        left: 0,
        top: 0,
        width: 945,
        height: 1308,
        overflow: "hidden",
        background: "#ffffff",
      }}
    >
      {SPECS.map((s, i) => (
        <Panel key={i} spec={s} />
      ))}
    </div>
  );
}
